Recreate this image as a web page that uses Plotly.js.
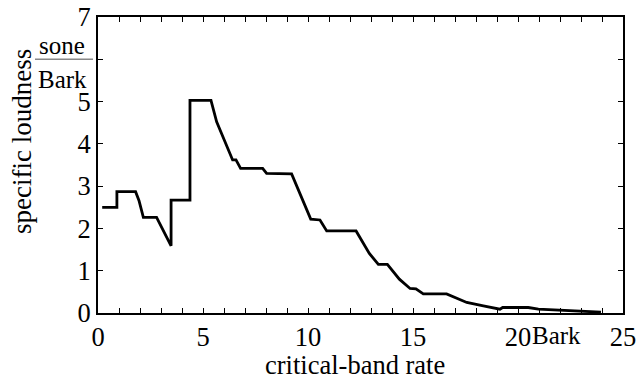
<!DOCTYPE html>
<html>
<head>
<meta charset="utf-8">
<script src="https://cdn.plot.ly/plotly-3.0.1.min.js"></script>
<style>html,body{margin:0;padding:0;background:#fff;}#chart{width:637px;height:385px;}</style>
</head>
<body>
<div id="chart"></div>
<script>
// critical-band rate (Bark)
var barkValues = [0.2, 0.9, 0.9, 1.79, 1.95, 2.16, 2.79, 3.48, 3.48, 4.38, 4.38, 5.38, 5.65, 6.1, 6.41, 6.57, 6.79, 7.84, 8.03, 9.22, 9.7, 10.13, 10.57, 10.89, 12.29, 12.92, 13.35, 13.78, 14.35, 14.86, 15.14, 15.49, 16.6, 17.08, 17.56, 18.35, 19.14, 19.27, 20.49, 20.97, 21.84, 22.24, 22.95, 23.95];
// specific loudness (sone/Bark)
var loudnessValues = [2.5, 2.5, 2.87, 2.87, 2.66, 2.26, 2.26, 1.59, 2.67, 2.67, 5.03, 5.03, 4.52, 4.01, 3.62, 3.62, 3.42, 3.42, 3.3, 3.29, 2.71, 2.22, 2.2, 1.94, 1.94, 1.41, 1.15, 1.15, 0.8, 0.58, 0.57, 0.45, 0.45, 0.35, 0.25, 0.17, 0.09, 0.13, 0.13, 0.09, 0.07, 0.06, 0.03, 0.02];

var xTickVals = [0,1,2,3,4,5,6,7,8,9,10,11,12,13,14,15,16,17,18,19,20,21,22,23,24,25];
var xTickLabels = {0:"0", 5:"5", 10:"10", 15:"15", 20:"20", 25:"25"};
var xUnitLabel = "Bark";
var xUnitPos = 21.85;
var yTickVals = [0,1,2,3,4,5,6,7];
var yTickLabels = ["0","1","2","3","4","5","","7"];
var yUnitNum = "sone";
var yUnitDen = "Bark";
var yUnitPos = 6;
var xTitle = "critical-band rate";
var yTitle = "specific loudness";

var FONT = "Liberation Serif, Times New Roman, serif";
var xTickText = xTickVals.map(function(v){ return xTickLabels[v] !== undefined ? xTickLabels[v] : ""; });

var trace = {
  x: barkValues, y: loudnessValues, type: "scatter", mode: "lines",
  line: {color: "#000", width: 2.8}, hoverinfo: "skip"
};

var axisCommon = {
  showgrid: false, zeroline: false, showline: true, linecolor: "#000", linewidth: 2,
  mirror: "ticks", ticks: "inside", ticklen: 5, tickwidth: 1, tickcolor: "#000",
  tickfont: {family: FONT, size: 26.5, color: "#000"}, tickmode: "array"
};

var layout = {
  width: 637, height: 385,
  margin: {l: 98, r: 14, t: 17, b: 72, pad: 0},
  paper_bgcolor: "#fff", plot_bgcolor: "#fff",
  showlegend: false,
  font: {family: FONT, size: 26, color: "#000"},
  xaxis: Object.assign({}, axisCommon, {range: [0, 25], tickvals: xTickVals, ticktext: xTickText, ticklabelstandoff: -1}),
  yaxis: Object.assign({}, axisCommon, {range: [0, 7], tickvals: yTickVals, ticktext: yTickLabels, ticklabelstandoff: 0}),
  annotations: [
    {text: xUnitLabel, xref: "x", yref: "paper", x: xUnitPos, y: -0.078, yshift: 1, xanchor: "center", yanchor: "middle", showarrow: false, font: {family: FONT, size: 25, color: "#000"}},
    {text: yUnitNum, xref: "paper", yref: "y", x: -0.069, y: yUnitPos, yshift: 14, xanchor: "center", yanchor: "middle", showarrow: false, font: {family: FONT, size: 25, color: "#000"}},
    {text: yUnitDen, xref: "paper", yref: "y", x: -0.067, y: yUnitPos, yshift: -20, xanchor: "center", yanchor: "middle", showarrow: false, font: {family: FONT, size: 25, color: "#000"}},
    {text: xTitle, xref: "paper", yref: "paper", x: 0.49, y: -0.176, xanchor: "center", yanchor: "middle", showarrow: false, font: {family: FONT, size: 26.5, color: "#000"}},
    {text: yTitle, xref: "paper", yref: "paper", x: -0.145, y: 0.581, xanchor: "center", yanchor: "middle", textangle: -90, showarrow: false, font: {family: FONT, size: 27, color: "#000"}}
  ],
  shapes: [
    {type: "line", xref: "paper", yref: "y", x0: -0.12, x1: -0.0095, y0: yUnitPos, y1: yUnitPos, line: {color: "#888", width: 1.5}}
  ]
};

Plotly.newPlot("chart", [trace], layout, {staticPlot: true, displayModeBar: false});
</script>
</body>
</html>
